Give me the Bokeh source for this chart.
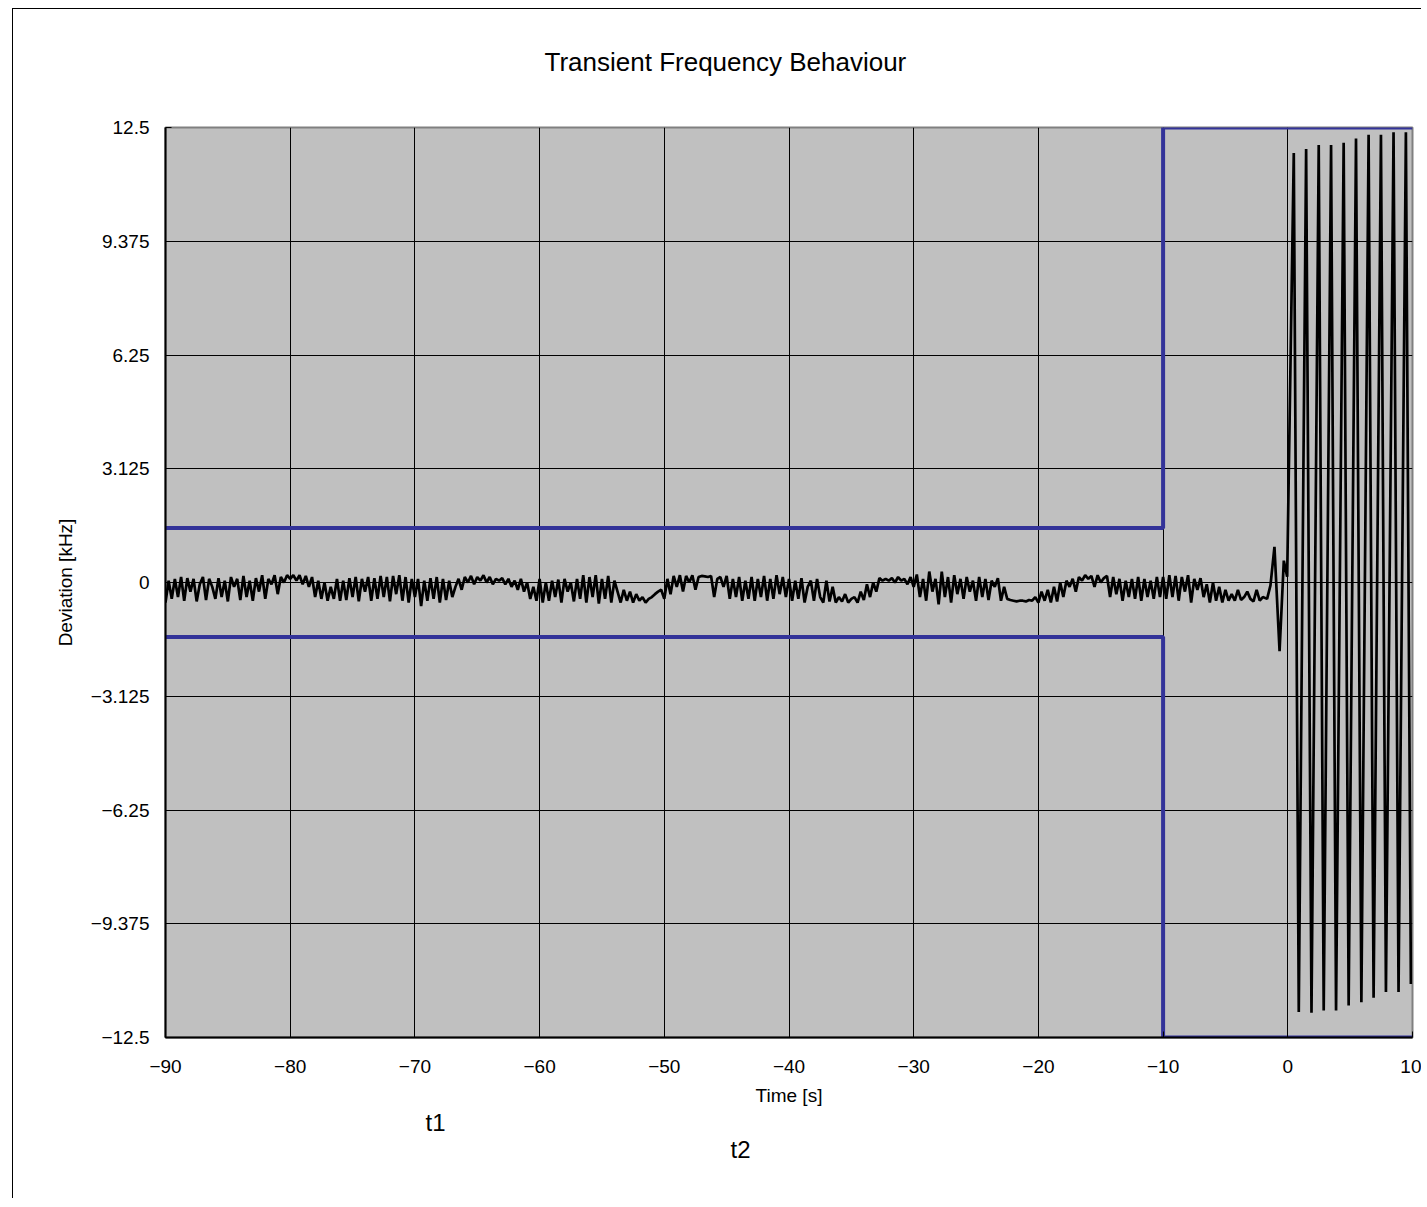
from bokeh.plotting import figure
from bokeh.models import FixedTicker, Title
from bokeh.embed import file_html
from bokeh.resources import INLINE

# ---------------- data ----------------
x_ticks = [-90, -80, -70, -60, -50, -40, -30, -20, -10, 0, 10]
x_tick_labels = ["\u221290", "\u221280", "\u221270", "\u221260", "\u221250", "\u221240",
                 "\u221230", "\u221220", "\u221210", "0", "10"]
y_ticks = [-12.5, -9.375, -6.25, -3.125, 0, 3.125, 6.25, 9.375, 12.5]
y_tick_labels = ["\u221212.5", "\u22129.375", "\u22126.25", "\u22123.125", "0",
                 "3.125", "6.25", "9.375", "12.5"]

marker_texts = ["t1", "t2"]

# limit masks (kHz)
mask_t = [-90, -10, -10, 10]
mask_upper = [1.5, 1.5, 12.5, 12.5]
mask_lower = [-1.5, -1.5, -12.5, -12.5]

# measured deviation, sampled every 0.25 s from -90 s (kHz)
noise_start = -90.0
noise_step = 0.25
noise_m90 = [-0.55, 0.05, -0.45, 0.1, -0.4, 0.15, -0.5, 0.12, -0.25, 0.1,
             -0.52, -0.05, 0.15, -0.48, 0.1, -0.12, -0.45, 0.12, -0.4, 0.05,
             -0.52, 0.15, -0.12, 0.1, -0.48, 0.18, -0.4, 0.05, -0.5, 0.12,
             -0.25, 0.2, -0.45, 0.1, -0.05, 0.2, -0.32, 0.15, 0.0, 0.2]
noise_m80 = [0.1, 0.2, 0.05, 0.2, -0.05, 0.18, -0.12, 0.15, -0.4, 0.05,
             -0.45, 0.0, -0.5, -0.12, -0.45, 0.1, -0.5, 0.05, -0.48, 0.12,
             -0.4, 0.15, -0.52, 0.1, -0.25, 0.15, -0.5, 0.12, -0.45, 0.18,
             -0.4, 0.15, -0.52, 0.18, -0.32, 0.2, -0.5, 0.15, -0.55, 0.1]
noise_m70 = [-0.4, 0.1, -0.65, 0.05, -0.5, 0.12, -0.45, 0.15, -0.55, 0.1,
             -0.48, 0.05, -0.4, -0.12, 0.1, -0.2, 0.15, 0.0, 0.18, -0.05,
             0.15, 0.05, 0.2, 0.0, 0.15, -0.05, 0.1, 0.05, 0.12, -0.05,
             0.1, -0.12, 0.05, -0.2, 0.1, -0.25, 0.0, -0.45, -0.12, -0.5]
noise_m60 = [0.1, -0.55, 0.0, -0.5, 0.05, -0.4, 0.08, -0.55, 0.1, -0.25,
             0.0, -0.52, 0.1, -0.45, 0.2, -0.55, 0.15, -0.4, 0.2, -0.58,
             0.1, -0.45, 0.18, -0.55, 0.05, -0.25, -0.55, -0.2, -0.5, -0.25,
             -0.55, -0.32, -0.5, -0.4, -0.55, -0.45, -0.4, -0.32, -0.25, -0.2]
noise_m50 = [-0.45, 0.1, -0.32, 0.18, -0.12, 0.2, -0.25, 0.18, 0.0, 0.2,
             -0.2, 0.15, 0.18, 0.17, 0.15, 0.18, -0.4, 0.1, 0.15, -0.12,
             0.18, -0.45, 0.1, -0.4, 0.15, -0.5, 0.05, -0.45, 0.15, -0.5,
             0.1, -0.4, 0.18, -0.5, 0.1, -0.45, 0.2, -0.32, 0.15, -0.4]
noise_m40 = [0.1, -0.5, 0.05, -0.45, 0.12, -0.55, -0.12, 0.05, -0.5, 0.1,
             -0.4, -0.55, 0.05, -0.52, -0.12, -0.55, -0.4, -0.52, -0.32, -0.55,
             -0.45, -0.4, -0.55, -0.25, -0.48, -0.05, -0.4, 0.0, -0.25, 0.12,
             0.05, 0.1, 0.05, 0.12, 0.0, 0.15, 0.05, 0.1, -0.05, 0.15]
noise_m30 = [-0.12, 0.22, -0.4, 0.1, -0.5, 0.3, -0.25, 0.1, -0.6, 0.3,
             -0.4, 0.15, -0.55, 0.2, -0.32, 0.1, -0.45, 0.15, -0.25, 0.05,
             -0.5, 0.15, -0.4, 0.1, -0.48, 0.05, -0.12, 0.12, -0.5, -0.12,
             -0.45, -0.48, -0.5, -0.52, -0.5, -0.5, -0.52, -0.48, -0.5, -0.4]
noise_m20 = [-0.55, -0.25, -0.5, -0.2, -0.55, -0.12, -0.52, 0.0, -0.4, 0.05,
             -0.12, 0.1, -0.25, 0.15, 0.05, 0.2, 0.1, 0.18, -0.12, 0.2,
             0.0, 0.12, 0.18, -0.4, 0.15, -0.32, 0.1, -0.5, 0.05, -0.4,
             0.1, -0.45, 0.15, -0.5, 0.1, -0.4, 0.05, -0.45, 0.15, -0.4]
noise_m10 = [0.15, -0.45, 0.2, -0.4, 0.18, -0.5, 0.15, -0.25, 0.2, -0.55,
             0.1, -0.2, 0.12, -0.4, -0.05, -0.55, 0.0, -0.5, -0.12, -0.55,
             -0.2, -0.5, -0.32, -0.5, -0.2, -0.48, -0.4, -0.25, -0.45, -0.52,
             -0.2, -0.5, -0.4]

# switch-on transient (s, kHz)
trans_t = [-1.66, -1.39, -1.07, -0.66, -0.32, -0.05]
trans_v = [-0.45, -0.08, 0.98, -1.89, 0.6, 0.16]

# oscillation after t = 0 (s, kHz)
osc_t = [0.48, 0.88, 1.47, 1.9, 2.48, 2.88, 3.47, 3.87, 4.48, 4.88,
         5.47, 5.9, 6.48, 6.88, 7.47, 7.87, 8.48, 8.88, 9.47, 9.87]
osc_v = [11.8, -11.8, 11.91, -11.82, 12.02, -11.76, 12.02, -11.76, 12.08, -11.62,
         12.2, -11.53, 12.3, -11.41, 12.3, -11.25, 12.37, -11.25, 12.37, -11.03]

noise_v = (noise_m90 + noise_m80 + noise_m70 + noise_m60 + noise_m50 +
           noise_m40 + noise_m30 + noise_m20 + noise_m10)
noise_t = [noise_start + noise_step * i for i in range(len(noise_v))]

sig_t = noise_t + trans_t + osc_t
sig_v = noise_v + trans_v + osc_v

# ---------------- figure ----------------
FONT = "Liberation Sans"

p = figure(width=1409, height=1190, output_backend="svg", toolbar_location=None,
           x_range=(-90, 10), y_range=(-12.5, 12.5),
           min_border_left=152, min_border_right=10, min_border_top=118,
           min_border_bottom=162,
           background_fill_color="#C0C0C0", border_fill_color="white",
           outline_line_color="#808080", outline_line_width=2)
p.styles = {"border-left": "1px solid black", "border-top": "1px solid black",
            "margin-left": "12px", "margin-top": "8px"}

# spacer between frame and title (closest to the frame), then the title itself
p.add_layout(Title(text=" ", text_font=FONT, text_font_size="25px", standoff=21), "above")
p.add_layout(Title(text="Transient  Frequency  Behaviour", align="left", offset=379,
                   text_font=FONT, text_font_size="26px", text_font_style="normal",
                   text_color="black", standoff=0), "above")

for ax in (p.xaxis[0], p.yaxis[0]):
    ax.major_label_text_font = FONT
    ax.major_label_text_font_size = "19px"
    ax.major_label_text_color = "black"
    ax.axis_label_text_font = FONT
    ax.axis_label_text_font_size = "19px"
    ax.axis_label_text_font_style = "normal"
    ax.axis_label_text_color = "black"
    ax.axis_line_color = "black"
    ax.axis_line_width = 2
    ax.major_tick_in = 6
    ax.major_tick_out = 0
    ax.major_tick_line_color = "black"
    ax.minor_tick_line_color = None

p.xaxis[0].ticker = FixedTicker(ticks=x_ticks)
p.xaxis[0].major_label_overrides = {v: s for v, s in zip(x_ticks, x_tick_labels)}
p.xaxis[0].axis_label = "Time [s]"
p.xaxis[0].major_label_standoff = 22
p.xaxis[0].axis_label_standoff = 9

p.yaxis[0].ticker = FixedTicker(ticks=y_ticks)
p.yaxis[0].major_label_overrides = {v: s for v, s in zip(y_ticks, y_tick_labels)}
p.yaxis[0].axis_label = "Deviation [kHz]"
p.yaxis[0].major_label_standoff = 16
p.yaxis[0].axis_label_standoff = 12

p.xgrid[0].ticker = FixedTicker(ticks=x_ticks)
p.ygrid[0].ticker = FixedTicker(ticks=y_ticks)
for g in (p.xgrid[0], p.ygrid[0]):
    g.grid_line_color = "black"
    g.grid_line_width = 1

p.line(mask_t, mask_upper, line_color="#333399", line_width=4)
p.line(mask_t, mask_lower, line_color="#333399", line_width=4)
p.line(sig_t, sig_v, line_color="black", line_width=2.7)

# t1 / t2 texts below the chart
for txt, off, so in ((marker_texts[0], 260, 0), (marker_texts[1], 565, -4)):
    p.add_layout(Title(text=txt, align="left", offset=off, vertical_align="top",
                       standoff=so, text_font=FONT, text_font_size="24px",
                       text_font_style="normal", text_color="black"), "below")

open("out.html", "w").write(file_html(p, INLINE))
